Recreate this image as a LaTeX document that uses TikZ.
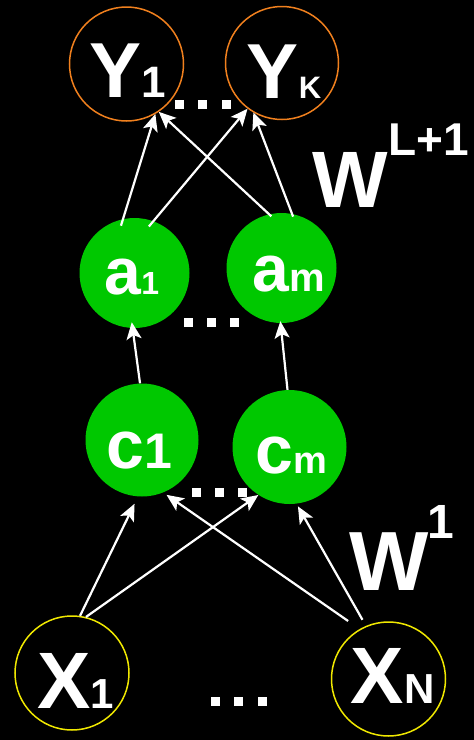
\documentclass[tikz,border=0pt]{standalone}
\usepackage{fontspec}
\setmainfont{Liberation Sans}
\usetikzlibrary{arrows.meta}
\definecolor{outorange}{RGB}{240,128,30}
\definecolor{inyellow}{RGB}{240,232,0}
\definecolor{hidgreen}{RGB}{0,200,0}
\tikzset{
  outnode/.style={circle,draw=outorange,line width=1.5pt,minimum size=#1,inner sep=0pt},
  innode/.style={circle,draw=inyellow,line width=1.5pt,minimum size=#1,inner sep=0pt},
  hidnode/.style={circle,fill=hidgreen,draw=none,minimum size=#1,inner sep=0pt},
  lbl/.style={text=white,font=\bfseries,anchor=base,inner sep=0pt},
  conn/.style={white,line width=2.2pt,-{Stealth[length=17pt,width=15pt,inset=4pt]}},
  dotsq/.style={fill=white,draw=none,minimum size=9pt,inner sep=0pt,rectangle}
}
\newcommand{\fsz}[1]{\fontsize{#1}{#1}\selectfont}
\begin{document}
\begin{tikzpicture}[x=1pt,y=-1pt]
\fill[black] (0,0) rectangle (474,740);
\useasboundingbox (0,0) rectangle (474,740);
% circles
\node[outnode=114pt] (Y1) at (126.5,64) {};
\node[outnode=113pt] (YK) at (282,63) {};
\node[hidnode=110pt] (a1) at (134.5,273) {};
\node[hidnode=110pt] (am) at (281.5,268) {};
\node[hidnode=113pt] (c1) at (142,440) {};
\node[hidnode=114pt] (cm) at (289.5,447) {};
\node[innode=114pt] (X1) at (72,673) {};
\node[innode=114pt] (XN) at (388.5,679) {};
% labels
\node[lbl] (tY1) at (127.5,97) {\fsz{78}Y\fsz{44}1};
\node[lbl] (tYK) at (284,98) {\fsz{78}Y\fsz{31}K};
\node[lbl] (ta1) at (132,294) {\fsz{66}a\fsz{32}1};
\node[lbl] (tam) at (288.5,291) {\fsz{66}a\fsz{40}m};
\node[lbl] (tc1) at (139,468) {\fsz{68}c\fsz{50}1};
\node[lbl] (tcm) at (291,473) {\fsz{68}c\fsz{38}m};
\node[lbl] (tX1) at (75.5,708) {\fsz{80}X\fsz{42}1};
\node[lbl] (tXN) at (392.5,703) {\fsz{80}X\fsz{42}N};
\node[lbl,anchor=base west] (tWL) at (312,207) {\fsz{80}W};
\node[lbl,anchor=base west] (tWLs) at (388,155) {\fsz{46}L+1};
\node[lbl,anchor=base west] (tW1) at (349,590) {\fsz{84}W};
\node[lbl,anchor=base west] (tW1s) at (427,538) {\fsz{48}1};
% dots
\foreach \x [count=\i] in {179.5,202.5,226.5} \node[dotsq] (dY\i) at (\x,104.5) {};
\foreach \x [count=\i] in {188,211.5,234.5} \node[dotsq] (dA\i) at (\x,322) {};
\foreach \x [count=\i] in {196,219,242.5} \node[dotsq] (dC\i) at (\x,492.5) {};
\foreach \x [count=\i] in {215.5,238.5,262} \node[dotsq] (dX\i) at (\x,701.5) {};
% connectors
\draw[conn,shorten <=-7pt] (a1.102) -- (Y1.-60);
\draw[conn,shorten <=-7pt] (a1.70) -- (YK.233);
\draw[conn,shorten <=-3pt] (am.103) -- (Y1.-56);
\draw[conn,shorten <=-3pt] (am.79) -- (YK.240);
\draw[conn,shorten >=-6pt] (c1.92) -- (a1.-92);
\draw[conn,shorten >=-2pt] (cm.92) -- (am.-91);
\draw[conn,shorten >=8pt] (X1.82) -- (c1.-94);
\draw[conn] (X1.76) -- (cm.237);
\draw[conn,shorten <=14pt,shorten >=4pt] (XN.120) -- (c1.-68);
\draw[conn,shorten <=7pt,shorten >=3pt] (XN.113) -- (cm.-83);
\end{tikzpicture}
\end{document}
